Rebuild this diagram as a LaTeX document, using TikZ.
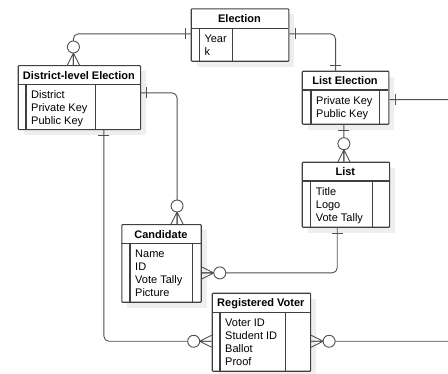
\documentclass[tikz,border=0pt]{standalone}
\usepackage{fontspec}
\setmainfont{Liberation Sans}
\usetikzlibrary{calc}
\definecolor{boxline}{HTML}{404040}
\definecolor{connline}{HTML}{505050}
\definecolor{shadowgray}{HTML}{EEEEEE}
\tikzset{
  conn/.style={draw=connline, line width=0.9pt, rounded corners=5pt},
  entbox/.style={draw=boxline, line width=1.1pt, rounded corners=0.8pt, fill=white},
  inner/.style={draw=boxline, line width=1.1pt},
  ttl/.style={font=\fontsize{11}{13}\selectfont\bfseries, inner sep=0pt, anchor=center},
  attr/.style={font=\fontsize{11}{13}\selectfont, inner sep=0pt, anchor=north west, align=left},
}
% entity: name, x1, y1, x2, y2, header y, inner-left x, divider x, title, attributes
\newcommand\entity[9]{%
  \fill[shadowgray] (#2+6,#3+6) rectangle (#4+6,#5+6);
  \node[entbox, anchor=north west, minimum width={(#4-#2)*1pt}, minimum height={(#5-#3)*1pt}, inner sep=0pt] (#1) at (#2,#3) {};
  \draw[inner] (#2,#6) -- (#4,#6);
  \draw[inner] (#7,#6) -- (#7,#5);
  \draw[inner] (#8,#6) -- (#8,#5);
  \node[ttl] (#1-t) at ({(#2+#4)/2},{(#3+#6)/2+0.5}) {#9};
  \entityattrs{#1}{#7}{#6}%
}
\newcommand\entityattrs[4]{\node[attr] (#1-a) at (#2+5,#3+6.5) {#4};}
\newcommand\onemark[2]{\begin{scope}[shift={#1},rotate=#2]
  \draw[connline, line width=0.9pt] (5.7,-5.5) -- (5.7,5.5);\end{scope}}
\newcommand\zeromany[2]{\begin{scope}[shift={#1},rotate=#2]
  \draw[connline, line width=0.9pt] (0,-6) -- (12,0) -- (0,6) (0,0) -- (12,0);
  \draw[connline, line width=0.9pt, fill=white] (18,0) circle (6);\end{scope}}
\begin{document}
\begin{tikzpicture}[x=1pt,y=-1pt]
\useasboundingbox (0,0) rectangle (448,373);
\clip (0,0) rectangle (448,373);
\coordinate (farright) at (470,0);
\entity{el}{190.7}{8.3}{288.3}{60.7}{28.7}{199.3}{232.7}{Election}{Year\\k}
\entity{dle}{17.7}{65}{140}{129}{84.3}{26}{95.7}{District-level Election}{District\\Private Key\\Public Key}
\entity{le}{301.7}{70.7}{388.3}{123.7}{90}{311}{379.3}{List Election}{Private Key\\Public Key}
\entity{lst}{301.7}{161.7}{389}{226.7}{181}{310.7}{372.7}{List}{Title\\Logo\\Vote Tally}
\entity{cand}{121.3}{224}{200.7}{301.7}{243.3}{130}{192.7}{Candidate}{Name\\ID\\Vote Tally\\Picture}
\entity{rv}{211.7}{292.7}{310}{370.7}{312.7}{220}{285.7}{Registered Voter}{Voter ID\\Student ID\\Ballot\\Proof}
% connector end points
\coordinate (c1a) at ($(el.west)+(0,-1.2)$);
\coordinate (c1b) at ($(dle.north)+(-6,0)$);
\coordinate (c2a) at ($(el.east)+(0,-1.2)$);
\coordinate (c2b) at ($(le.north)+(-10,0)$);
\coordinate (c3a) at ($(le.east)+(0,1.8)$);
\coordinate (c3b) at ($(rv.east)+(0,9)$);
\coordinate (c4a) at ($(dle.east)+(0,-4.7)$);
\coordinate (c4b) at ($(cand.north)+(15.5,0)$);
\coordinate (c5a) at ($(dle.south)+(24.5,0)$);
\coordinate (c5b) at ($(rv.west)+(0,9)$);
\coordinate (c6a) at ($(le.south)+(-1.7,0)$);
\coordinate (c6b) at ($(lst.north)+(-2,0)$);
\coordinate (c7a) at ($(lst.south)+(-8.7,0)$);
\coordinate (c7b) at ($(cand.east)+(0,9.5)$);
\draw[conn] (c1a) -| (c1b);
\draw[conn] (c2a) -| (c2b);
\draw[conn] (c3a) -- (c3a -| farright) |- (c3b);
\draw[conn] (c4a) -| (c4b);
\draw[conn] (c5a) |- (c5b);
\draw[conn] (c6a) -- (c6b);
\draw[conn] (c7a) |- (c7b);
% cardinality marks
\onemark{(c1a)}{180}
\zeromany{(c1b)}{90}
\onemark{(c2a)}{0}
\onemark{(c2b)}{90}
\onemark{(c3a)}{0}
\zeromany{(c3b)}{0}
\onemark{(c4a)}{0}
\zeromany{(c4b)}{90}
\onemark{(c5a)}{270}
\zeromany{(c5b)}{180}
\onemark{(c6a)}{270}
\zeromany{(c6b)}{90}
\onemark{(c7a)}{270}
\zeromany{(c7b)}{0}
\end{tikzpicture}
\end{document}
